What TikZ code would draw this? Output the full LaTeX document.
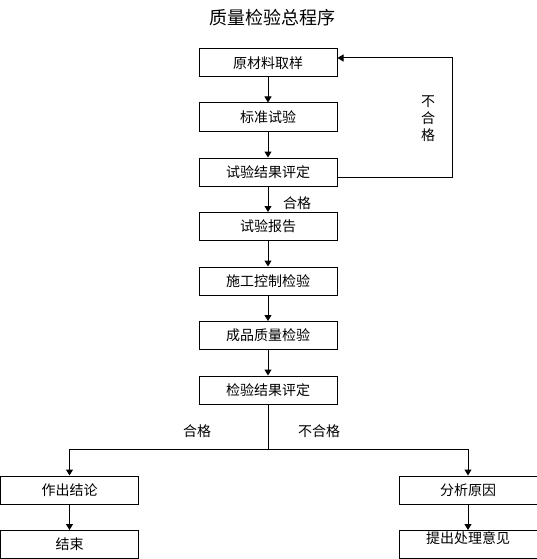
\documentclass[tikz,border=0pt]{standalone}
\usepackage{fontspec}
\setmainfont{Noto Sans CJK SC}
\usetikzlibrary{positioning,arrows.meta}

\begin{document}
\begin{tikzpicture}[x=1pt,y=-1pt,
  proc/.style={draw, line width=1pt, minimum width=138pt, minimum height=28pt, inner sep=0pt, font=\fontsize{14}{16}\selectfont},
  flow/.style={-{Triangle[length=6pt,width=7pt]}, line width=1pt},
  lbl/.style={font=\fontsize{14}{16}\selectfont}]
  \useasboundingbox (0,0) rectangle (537,559);

  % Title
  \node[font=\fontsize{18}{20}\selectfont] (title) at (272,18) {质量检验总程序};

  % Main column
  \node[proc] (sample) at (268,63) {原材料取样};
  \node[proc] (stdtest) at (268,117) {标准试验};
  \node[proc] (testeval) at (268,172) {试验结果评定};
  \node[proc] (report) at (268,226.5) {试验报告};
  \node[proc] (control) at (268,281) {施工控制检验};
  \node[proc] (product) at (268,335.5) {成品质量检验};
  \node[proc] (inspeval) at (268,390) {检验结果评定};

  \draw[flow] (sample) -- (stdtest);
  \draw[flow] (stdtest) -- (testeval);
  \draw[flow] (testeval) -- (report);
  \draw[flow] (report) -- (control);
  \draw[flow] (control) -- (product);
  \draw[flow] (product) -- (inspeval);
  \node[lbl] (pass1) at (297,203) {合格};

  % Feedback loop
  \coordinate (back) at (452,58);
  \draw[flow] ([yshift=-5pt]testeval.east) -| (back) -- ([yshift=5pt]sample.east);
  \node[lbl, align=center, inner sep=0pt] (fail1) at (428,119) {不\\[1pt]合\\[1pt]格};

  % Branches
  \node[proc] (conclude) at (69.5,490) {作出结论};
  \node[proc] (finish) at (69.5,544.5) {结束};
  \node[proc] (analyse) at (468,490) {分析原因};
  \node[proc, text height=11pt, text depth=14pt] (propose) at (468,544.5) {提出处理意见};

  \coordinate (split) at (268,449);
  \draw[line width=1pt] (inspeval) -- (split);
  \draw[flow] (split) -| (conclude);
  \draw[flow] (split) -| (analyse);
  \draw[flow] (conclude) -- (finish);
  \draw[flow] (analyse) -- (propose);
  \node[lbl] (pass2) at (197,431) {合格};
  \node[lbl] (fail2) at (319,431) {不合格};
\end{tikzpicture}
\end{document}
